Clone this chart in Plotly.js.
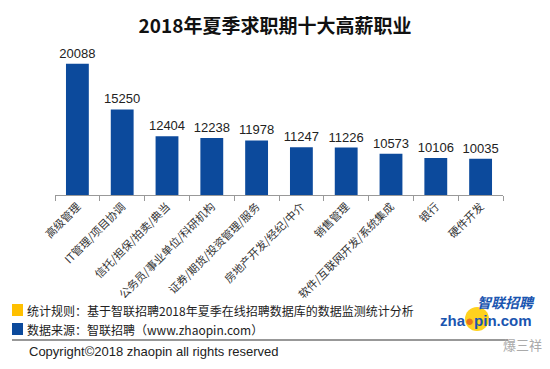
<!DOCTYPE html>
<html>
<head>
<meta charset="utf-8">
<script src="https://cdn.plot.ly/plotly-3.0.1.min.js"></script>
<style>html,body{margin:0;padding:0;background:#fff;}#chart{width:550px;height:369px;}</style>
</head>
<body>
<div id="chart"></div>
<script>
const categories = ["高级管理","IT管理/项目协调","信托/担保/拍卖/典当","公务员/事业单位/科研机构","证券/期货/投资管理/服务","房地产开发/经纪/中介","销售管理","软件/互联网开发/系统集成","银行","硬件开发"];
const salaries = [20088,15250,12404,12238,11978,11247,11226,10573,10106,10035];
const chartTitle = "2018年夏季求职期十大高薪职业";
const noteRule = "统计规则：基于智联招聘2018年夏季在线招聘数据库的数据监测统计分析";
const noteSource = "数据来源：智联招聘（www.zhaopin.com）";
const copyrightText = "Copyright©2018 zhaopin all rights reserved";

const W = 550, H = 369, L = 55, R = 47, T = 40, B = 174;
const pw = W - L - R, ph = H - T - B;
const px = x => (x - L) / pw;
const py = y => (H - B - y) / ph;
const CJK = "'Noto Sans CJK SC', 'Microsoft YaHei', sans-serif";

const data = [{
  type: "bar",
  x: categories,
  y: salaries,
  marker: {color: "#0c4a9c"},
  text: salaries.map(String),
  textposition: "outside",
  constraintext: "none",
  cliponaxis: false,
  textfont: {family: "'Liberation Sans', Arial, sans-serif", size: 13, color: "#222"},
  hoverinfo: "none"
}];

const layout = {
  width: W, height: H,
  margin: {l: L, r: R, t: T, b: B},
  paper_bgcolor: "#fff", plot_bgcolor: "#fff",
  showlegend: false,
  bargap: 0.49,
  title: {text: chartTitle, x: 0.5, xref: "container", xanchor: "center", y: 1 - 26/H, yref: "container", yanchor: "middle",
          font: {family: CJK, size: 19, color: "#111", weight: "bold"}},
  xaxis: {
    type: "category", showline: true, linecolor: "#999", linewidth: 1,
    ticks: "outside", tickson: "boundaries", ticklen: 5, tickcolor: "#999",
    tickangle: -45, tickfont: {family: CJK, size: 11, color: "#333"},
    showgrid: false, zeroline: false, fixedrange: true
  },
  yaxis: {range: [6200, 22600], visible: false, showgrid: false, zeroline: false, fixedrange: true},
  shapes: [
    {type: "rect", xref: "paper", yref: "paper", x0: px(12), x1: px(23), y0: py(304), y1: py(316), fillcolor: "#ffc000", line: {width: 0}},
    {type: "rect", xref: "paper", yref: "paper", x0: px(12), x1: px(23), y0: py(323), y1: py(335), fillcolor: "#0c4a9c", line: {width: 0}},
    {type: "line", xref: "paper", yref: "paper", x0: px(12), x1: px(508), y0: py(340), y1: py(340), line: {color: "#333", width: 1.2}},
    {type: "circle", xref: "paper", yref: "paper", x0: px(465), x1: px(489), y0: py(307), y1: py(331), fillcolor: "#ffd21f", line: {width: 0}}
  ],
  annotations: [
    {text: noteRule, xref: "paper", yref: "paper", x: px(25), y: py(310), xanchor: "left", yanchor: "middle", showarrow: false,
     font: {family: CJK, size: 12, color: "#222"}},
    {text: noteSource, xref: "paper", yref: "paper", x: px(25), y: py(329), xanchor: "left", yanchor: "middle", showarrow: false,
     font: {family: CJK, size: 12, color: "#222"}},
    {text: copyrightText, xref: "paper", yref: "paper", x: px(27), y: py(352), xanchor: "left", yanchor: "middle", showarrow: false,
     font: {family: "'Liberation Sans', Arial, sans-serif", size: 13, color: "#222"}},
    {text: "<i><b>智联招聘</b></i>", xref: "paper", yref: "paper", x: px(506), y: py(302), xanchor: "center", yanchor: "middle", showarrow: false,
     font: {family: CJK, size: 14, color: "#1a55b0"}},
    {text: "<b>zha<span style='color:#e8731a'>●</span>pin.com</b>", xref: "paper", yref: "paper", x: px(486), y: py(320), xanchor: "center", yanchor: "middle", showarrow: false,
     font: {family: "'Liberation Sans', Arial, sans-serif", size: 15, color: "#1a55b0"}},
    {text: "爆三祥", xref: "paper", yref: "paper", x: px(522), y: py(344), xanchor: "center", yanchor: "middle", showarrow: false,
     font: {family: CJK, size: 13, color: "#aaa"}}
  ]
};

Plotly.newPlot("chart", data, layout, {displayModeBar: false, staticPlot: true});
</script>
</body>
</html>
